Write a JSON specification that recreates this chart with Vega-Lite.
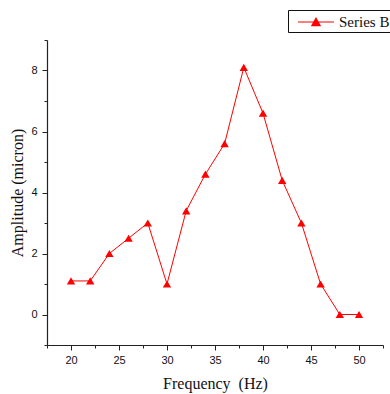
{
  "$schema": "https://vega.github.io/schema/vega-lite/v6.json",
  "autosize": {"type": "none"},
  "width": 336,
  "height": 305,
  "padding": {"left": 47, "top": 40, "right": 7, "bottom": 49},
  "background": "white",
  "config": {
    "view": {"stroke": null},
    "axis": {"domainColor": "#222", "domainWidth": 1.2, "tickColor": "#222", "tickWidth": 1, "grid": false, "labelFont": "Liberation Sans", "labelFontSize": 11, "labelColor": "#111", "titleFont": "Liberation Serif", "titleFontSize": 16, "titleFontWeight": "normal", "titleColor": "#111"}
  },
  "data": {"values": [
    {"f": 20, "a": 1.1, "s": "Series B"},
    {"f": 22, "a": 1.1, "s": "Series B"},
    {"f": 24, "a": 2.0, "s": "Series B"},
    {"f": 26, "a": 2.5, "s": "Series B"},
    {"f": 28, "a": 3.0, "s": "Series B"},
    {"f": 30, "a": 1.0, "s": "Series B"},
    {"f": 32, "a": 3.4, "s": "Series B"},
    {"f": 34, "a": 4.6, "s": "Series B"},
    {"f": 36, "a": 5.6, "s": "Series B"},
    {"f": 38, "a": 8.1, "s": "Series B"},
    {"f": 40, "a": 6.6, "s": "Series B"},
    {"f": 42, "a": 4.4, "s": "Series B"},
    {"f": 44, "a": 3.0, "s": "Series B"},
    {"f": 46, "a": 1.0, "s": "Series B"},
    {"f": 48, "a": 0.0, "s": "Series B"},
    {"f": 50, "a": 0.0, "s": "Series B"}
  ]},
  "layer": [
    {
      "mark": {"type": "line", "color": "#ff0000", "strokeWidth": 1, "clip": false},
      "encoding": {
        "x": {"field": "f", "type": "quantitative", "scale": {"domain": [17.5, 52.5], "nice": false, "zero": false},
          "axis": {"orient": "bottom", "values": [20, 25, 30, 35, 40, 45, 50], "tickSize": 5, "labelPadding": 4, "title": "Frequency \u00a0(Hz)", "titlePadding": 10}},
        "y": {"field": "a", "type": "quantitative", "scale": {"domain": [-1, 9], "nice": false, "zero": false},
          "axis": {"orient": "left", "values": [0, 2, 4, 6, 8], "tickSize": 5, "labelPadding": 5, "title": "Amplitude (micron)", "titlePadding": 5}}
      }
    },
    {
      "mark": {"type": "point", "shape": "triangle-up", "filled": true, "size": 70, "opacity": 1},
      "encoding": {
        "x": {"field": "f", "type": "quantitative",
          "axis": {"orient": "bottom", "values": [17.5, 22.5, 27.5, 32.5, 37.5, 42.5, 47.5, 52.5], "tickSize": 3, "labels": false, "domain": false, "title": null}},
        "y": {"field": "a", "type": "quantitative",
          "axis": {"orient": "left", "values": [-1, 1, 3, 5, 7, 9], "tickSize": 3, "labels": false, "domain": false, "title": null}},
        "color": {"field": "s", "type": "nominal", "scale": {"range": ["#ff0000"]},
          "legend": {"title": null, "orient": "none", "legendX": 241, "legendY": -30, "strokeColor": "#111", "padding": 2, "symbolOffset": 16, "symbolType": "M-2,0L2,0M-0.46,0.4L0,-0.42L0.46,0.4Z", "symbolSize": 324, "symbolStrokeWidth": 1.2, "symbolFillColor": "#ff0000", "symbolStrokeColor": "#ff0000", "labelFont": "Liberation Serif", "labelFontSize": 15, "labelColor": "#111", "labelOffset": 13}}
      }
    }
  ],
  "resolve": {"axis": {"x": "independent", "y": "independent"}}
}
